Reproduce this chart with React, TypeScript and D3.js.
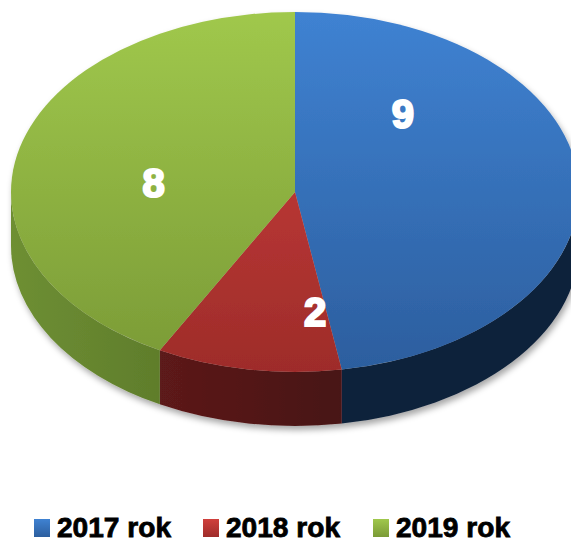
import React from "react";
import * as d3 from "d3";

const years = ["2017 rok", "2018 rok", "2019 rok"];
const counts = [9, 2, 8];

// top face gradient (top color, bottom color), side gradient (left, right)
const topColors = [
  ["#3F82D2", "#2C5E9E"],
  ["#D0403C", "#9E2C2A"],
  ["#A0C84C", "#7A9A36"],
];
const sideColors = [
  ["#1A3152", "#10223A"],
  ["#6E2020", "#461212"],
  ["#6E8F33", "#4C6622"],
];

const W = 571;
const H = 543;
const cx = 295;
const cy = 192;
const rx = 284;
const ry = 180;
const depth = 54;

const pt = (a: number, dy = 0): [number, number] => [
  cx + rx * Math.sin(a),
  cy - ry * Math.cos(a) + dy,
];

// where in each slice the value sits: share of the slice's angle, share of radius
const labelAt = [
  [0.24, 0.58],
  [0.09, 0.67],
  [0.445, 0.5],
];

const App = () => {
  const pie = d3.pie<number>().sort(null).startAngle(0).endAngle(2 * Math.PI);
  const arcs = pie(counts);

  const topPath = (a0: number, a1: number) => {
    const p0 = pt(a0);
    const p1 = pt(a1);
    const large = a1 - a0 > Math.PI ? 1 : 0;
    return `M${cx},${cy}L${p0[0]},${p0[1]}A${rx},${ry} 0 ${large} 1 ${p1[0]},${p1[1]}Z`;
  };

  const sidePath = (a0: number, a1: number) => {
    const s = Math.max(a0, Math.PI / 2);
    const e = Math.min(a1, (3 * Math.PI) / 2);
    if (e <= s) return null;
    const p0 = pt(s);
    const p1 = pt(e);
    const q1 = pt(e, depth);
    const q0 = pt(s, depth);
    return `M${p0[0]},${p0[1]}A${rx},${ry} 0 0 1 ${p1[0]},${p1[1]}L${q1[0]},${q1[1]}A${rx},${ry} 0 0 0 ${q0[0]},${q0[1]}Z`;
  };

  const labelPos = (a0: number, a1: number, i: number) => {
    const a = a0 + (a1 - a0) * labelAt[i][0];
    const f = labelAt[i][1];
    return [cx + rx * f * Math.sin(a), cy - ry * f * Math.cos(a)];
  };

  const legendX = [34, 203, 373];

  return (
    <svg
      width={W}
      height={H}
      style={{ position: "absolute", left: 0, top: 0 }}
      fontFamily="'Liberation Sans', Arial, sans-serif"
    >
      <defs>
        <filter id="shadow" x="-10%" y="-10%" width="120%" height="130%">
          <feDropShadow dx="2" dy="4" stdDeviation="3" floodColor="#000" floodOpacity="0.35" />
        </filter>
        {topColors.map((c, i) => (
          <linearGradient
            key={"t" + i}
            id={"top" + i}
            gradientUnits="userSpaceOnUse"
            x1="0"
            y1={cy - ry}
            x2="0"
            y2={cy + ry}
          >
            <stop offset="0" stopColor={c[0]} />
            <stop offset="1" stopColor={c[1]} />
          </linearGradient>
        ))}
        {sideColors.map((c, i) => (
          <linearGradient
            key={"s" + i}
            id={"side" + i}
            gradientUnits="userSpaceOnUse"
            x1={cx - rx}
            y1="0"
            x2={cx + 60}
            y2="0"
          >
            <stop offset="0" stopColor={c[0]} />
            <stop offset="1" stopColor={c[1]} />
          </linearGradient>
        ))}
        {topColors.map((c, i) => (
          <linearGradient key={"l" + i} id={"leg" + i} x1="0" y1="0" x2="0" y2="1">
            <stop offset="0" stopColor={c[0]} />
            <stop offset="1" stopColor={c[1]} />
          </linearGradient>
        ))}
      </defs>

      <g filter="url(#shadow)">
        {arcs.map((a, i) => {
          const d = sidePath(a.startAngle, a.endAngle);
          return d ? <path key={"side" + i} d={d} fill={`url(#side${i})`} /> : null;
        })}
        {arcs.map((a, i) => (
          <path key={"top" + i} d={topPath(a.startAngle, a.endAngle)} fill={`url(#top${i})`} />
        ))}
      </g>

      {arcs.map((a, i) => {
        const [x, y] = labelPos(a.startAngle, a.endAngle, i);
        return (
          <text
            key={"lab" + i}
            x={x}
            y={y}
            dy="0.36em"
            textAnchor="middle"
            fill="#fff"
            fontSize={40}
            fontWeight="bold"
            stroke="#fff"
            strokeWidth={2.2}
          >
            {a.data}
          </text>
        );
      })}

      {years.map((y, i) => (
        <g key={"leg" + i} transform={`translate(${legendX[i]},519)`}>
          <rect x={0} y={0} width={16} height={18} fill={`url(#leg${i})`} />
          <text
            x={23}
            y={18}
            fontSize={28}
            fontWeight="bold"
            fill="#000"
            stroke="#000"
            strokeWidth={0.8}
            textLength={114}
            lengthAdjust="spacingAndGlyphs"
          >
            {y}
          </text>
        </g>
      ))}
    </svg>
  );
};

export default App;
